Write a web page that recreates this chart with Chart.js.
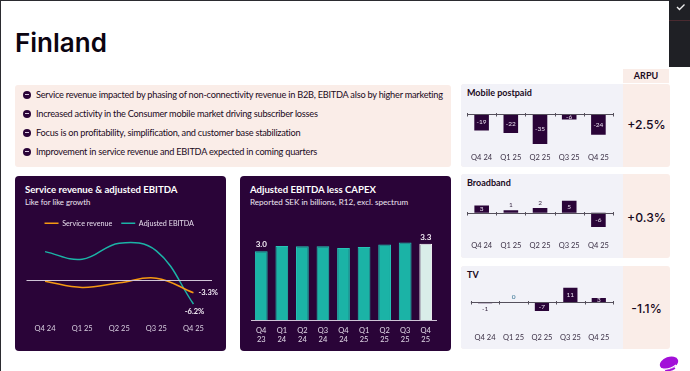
<!DOCTYPE html>
<html>
<head>
<meta charset="utf-8">
<title>Finland</title>
<script src="https://cdn.jsdelivr.net/npm/chart.js@4"></script>
<style>
html, body { margin: 0; padding: 0; background: #fff; overflow: hidden; }
body { width: 690px; height: 371px; position: relative; font-family: Lato, sans-serif; color: #1b0a22; }
.box { position: absolute; box-sizing: border-box; }
.abs { position: absolute; white-space: nowrap; }
canvas { position: absolute; }
.pink { background: #faede8; border-radius: 3px; }
.lilac { background: #f2f2f8; border-radius: 3px 0 0 3px; }
.dark { background: #2a0438; border-radius: 4px; }
.bullet { position: absolute; left: 36px; font-size: 9.2px; letter-spacing: -0.23px; line-height: 12px; white-space: nowrap; }
.dot { position: absolute; left: 23px; width: 8px; height: 8px; border-radius: 50%; background: #2a0438; }
.dot::after { content: ""; position: absolute; left: 2px; top: 3.5px; width: 4px; height: 1px; background: #d9c9e0; }
.ctitle { position: absolute; font-size: 9.6px; font-weight: 700; color: #fff; white-space: nowrap; }
.csub { position: absolute; font-size: 7.8px; color: #eee6f2; white-space: nowrap; }
.rowtitle { position: absolute; left: 467px; font-size: 9px; font-weight: 700; white-space: nowrap; }
.arpu { position: absolute; left: 623px; width: 47px; text-align: center; font-family: Inter, sans-serif; font-size: 12.2px; font-weight: 500; white-space: nowrap; color: #16081c; }
</style>
</head>
<body>
<div class="box" style="left:0;top:0;width:690px;height:1px;background:#2b2b30"></div>
<div class="box" style="left:0;top:0;width:1px;height:371px;background:#2b2b30"></div>
<div class="box" style="left:669px;top:0;width:21px;height:67px;background:#1f2025"></div>
<div class="box" style="left:669px;top:20px;width:21px;height:1px;background:#4a2a30"></div>
<svg class="abs" style="left:676px;top:3px" width="10" height="8"><path d="M1 4 L3.5 6.5 L8.5 1.5" stroke="#eee" stroke-width="1.4" fill="none"/></svg>

<div class="abs" style="left:15px;top:27px;font-family:Inter,sans-serif;font-size:26px;font-weight:600;color:#0c0410">Finland</div>

<div class="box pink" style="left:15px;top:85px;width:436px;height:82px"></div>
<div class="dot" style="top:90.5px"></div>
<div class="dot" style="top:109.5px"></div>
<div class="dot" style="top:128.5px"></div>
<div class="dot" style="top:147.5px"></div>
<div class="bullet" style="top:88.5px">Service revenue impacted by phasing of non-connectivity revenue in B2B, EBITDA also by higher marketing</div>
<div class="bullet" style="top:107.5px">Increased activity in the Consumer mobile market driving subscriber losses</div>
<div class="bullet" style="top:126.5px">Focus is on profitability, simplification, and customer base stabilization</div>
<div class="bullet" style="top:145.5px">Improvement in service revenue and EBITDA expected in coming quarters</div>

<div class="box dark" style="left:15px;top:176px;width:211px;height:175px"></div>
<div class="ctitle" style="left:25px;top:184px">Service revenue &amp; adjusted EBITDA</div>
<div class="csub" style="left:25px;top:197px">Like for like growth</div>
<canvas id="lineChart" width="211" height="175" style="left:15px;top:176px"></canvas>

<div class="box dark" style="left:240px;top:176px;width:211px;height:175px"></div>
<div class="ctitle" style="left:250px;top:184px">Adjusted EBITDA less CAPEX</div>
<div class="csub" style="left:250px;top:197px;font-size:8.1px">Reported SEK in billions, R12, excl. spectrum</div>
<canvas id="barChart" width="211" height="175" style="left:240px;top:176px"></canvas>

<div class="box pink" style="left:623px;top:69px;width:46px;height:14px;border-radius:0"></div>
<div class="abs" style="left:623px;top:70px;width:46px;text-align:center;font-size:9px;font-weight:700">ARPU</div>

<div class="box pink" style="left:461px;top:84px;width:209px;height:83px"></div>
<div class="box lilac" style="left:461px;top:84px;width:162px;height:83px"></div>
<div class="rowtitle" style="top:87px">Mobile postpaid</div>
<canvas id="mobileChart" width="162" height="83" style="left:461px;top:84px"></canvas>
<div class="arpu" style="top:117px">+2.5%</div>

<div class="box pink" style="left:461px;top:174px;width:209px;height:84px"></div>
<div class="box lilac" style="left:461px;top:174px;width:162px;height:84px"></div>
<div class="rowtitle" style="top:177px">Broadband</div>
<canvas id="broadbandChart" width="162" height="84" style="left:461px;top:174px"></canvas>
<div class="arpu" style="top:210px">+0.3%</div>

<div class="box pink" style="left:461px;top:266px;width:209px;height:83px"></div>
<div class="box lilac" style="left:461px;top:266px;width:162px;height:83px"></div>
<div class="rowtitle" style="top:269px">TV</div>
<canvas id="tvChart" width="162" height="83" style="left:461px;top:266px"></canvas>
<div class="arpu" style="top:301px">-1.1%</div>

<svg class="abs" style="left:658px;top:355px" width="24" height="16">
  <ellipse cx="11" cy="8" rx="9.5" ry="6" fill="#a20fd8" transform="rotate(-20 11 8)"/>
  <path d="M3 13.5 Q11 15.5 18 10" stroke="#fff" stroke-width="1.2" fill="none"/>
  <path d="M7 16 Q12 16 17 13" stroke="#a20fd8" stroke-width="1.5" fill="none"/>
</svg>

<script>
const quarters = ['Q4 24', 'Q1 25', 'Q2 25', 'Q3 25', 'Q4 25'];
const serviceRevenue = [-0.3, -1.9, -0.7, 0.5, -3.3];
const adjustedEbitda = [7.4, 5.4, 9.6, 7.6, -6.2];

const capexQuarters = [['Q4', '23'], ['Q1', '24'], ['Q2', '24'], ['Q3', '24'], ['Q4', '24'], ['Q1', '25'], ['Q2', '25'], ['Q3', '25'], ['Q4', '25']];
const ebitdaLessCapex = [3.0, 3.23, 3.22, 3.22, 3.14, 3.19, 3.3, 3.38, 3.33];
const capexLabels = ['3.0', '', '', '', '', '', '', '', '3.3'];

const mobilePostpaid = [-19, -22, -35, -6, -24];
const broadband = [3, 1, 2, 5, -6];
const tv = [-1, 0, -7, 11, 3];

// which bars have their number outside the bar
const mobileOutside = [];
const broadbandOutside = [1, 2];
const tvOutside = [0, 1];

const FONT = 'Lato, sans-serif';
const PURPLE = '#2a0438';
const TEAL = '#1bb3a6';
const ORANGE = '#f59a12';

// zero line with small ticks, x scale itself stays at the bottom
const zeroLine = {
    id: 'zeroLine',
    afterDatasetsDraw(chart, args, opts) {
        const { ctx, chartArea, scales } = chart;
        const y = Math.round(scales.y.getPixelForValue(0)) + 0.5;
        ctx.save();
        ctx.strokeStyle = opts.color;
        ctx.lineWidth = 1;
        ctx.beginPath();
        ctx.moveTo(chartArea.left, y);
        ctx.lineTo(chartArea.right, y);
        if (opts.ticks) {
            const step = chartArea.width / chart.data.labels.length;
            for (let i = 0; i <= chart.data.labels.length; i++) {
                const x = Math.round(chartArea.left + step * i) + 0.5;
                ctx.moveTo(x, y - 1.5);
                ctx.lineTo(x, y + 2);
            }
        }
        ctx.stroke();
        ctx.restore();
    }
};

const smallBarLabels = {
    id: 'smallBarLabels',
    afterDatasetsDraw(chart, args, opts) {
        const { ctx, scales } = chart;
        const values = chart.data.datasets[0].data;
        const bars = chart.getDatasetMeta(0).data;
        ctx.save();
        ctx.font = '6.5px ' + FONT;
        ctx.textAlign = 'center';
        ctx.textBaseline = 'middle';
        values.forEach((v, i) => {
            const zero = scales.y.getPixelForValue(0);
            const y = scales.y.getPixelForValue(v);
            if (opts.outside.includes(i)) {
                ctx.fillStyle = v === 0 ? '#2f6f8f' : '#3a2a44';
                ctx.fillText(v, bars[i].x, v < 0 ? y + 6 : y - 5);
            } else {
                ctx.fillStyle = '#e8e0ee';
                ctx.fillText(v, bars[i].x, (zero + y) / 2);
            }
        });
        ctx.restore();
    }
};

const capexBarLabels = {
    id: 'capexBarLabels',
    afterDatasetsDraw(chart) {
        const { ctx } = chart;
        const bars = chart.getDatasetMeta(0).data;
        ctx.save();
        ctx.font = 'bold 8px ' + FONT;
        ctx.fillStyle = '#f4eef6';
        ctx.textAlign = 'center';
        capexLabels.forEach((t, i) => {
            if (t) ctx.fillText(t, bars[i].x, bars[i].y - 4);
        });
        ctx.restore();
    }
};

const lineEndLabels = {
    id: 'lineEndLabels',
    afterDatasetsDraw(chart) {
        const { ctx } = chart;
        const rev = chart.getDatasetMeta(0).data[4];
        const ebitda = chart.getDatasetMeta(1).data[4];
        ctx.save();
        ctx.font = 'bold 7.5px ' + FONT;
        ctx.fillStyle = '#f4eef6';
        ctx.textBaseline = 'middle';
        ctx.fillText(serviceRevenue[4].toFixed(1) + '%', rev.x + 5, rev.y);
        ctx.textAlign = 'center';
        ctx.fillText(adjustedEbitda[4].toFixed(1) + '%', ebitda.x + 1, ebitda.y + 8);
        ctx.restore();
    }
};

// legend sits closer to the lines than its padding would allow
const tightLegend = {
    id: 'tightLegend',
    beforeInit(chart) {
        const fit = chart.legend.fit;
        chart.legend.fit = function () {
            fit.call(this);
            this.height -= 3;
        };
    }
};

new Chart(document.getElementById('lineChart'), {
    type: 'line',
    data: {
        labels: quarters,
        datasets: [
            { label: 'Service revenue', data: serviceRevenue, borderColor: ORANGE, backgroundColor: ORANGE, borderWidth: 1.5, tension: 0.4, pointRadius: 0 },
            { label: 'Adjusted EBITDA', data: adjustedEbitda, borderColor: TEAL, backgroundColor: TEAL, borderWidth: 1.5, tension: 0.4, pointRadius: 0 }
        ]
    },
    options: {
        responsive: false,
        animation: false,
        layout: { padding: { top: 34.7, left: 11.5, right: 14, bottom: 0 } },
        plugins: {
            legend: {
                display: true,
                position: 'top',
                align: 'center',
                labels: { color: '#e6dcec', boxWidth: 14, boxHeight: 0, padding: 9, font: { family: FONT, size: 7.2 } }
            },
            tooltip: { enabled: false },
            zeroLine: { color: '#cfc4d6', ticks: false }
        },
        scales: {
            x: {
                offset: true,
                grid: { display: false, drawTicks: false },
                border: { display: false },
                ticks: { color: '#d9d0e0', padding: 9, font: { family: FONT, size: 7.5 }, maxRotation: 0 },
                afterFit: s => { s.height = 36.25; }
            },
            y: { display: false, min: -9, max: 12 }
        }
    },
    plugins: [tightLegend, zeroLine, lineEndLabels]
});

new Chart(document.getElementById('barChart'), {
    type: 'bar',
    data: {
        labels: capexQuarters,
        datasets: [{
            data: ebitdaLessCapex,
            backgroundColor: ebitdaLessCapex.map((v, i) => i === 8 ? '#d9ede9' : TEAL),
            borderColor: ebitdaLessCapex.map((v, i) => i === 8 ? '#ffffff' : '#25c4b6'),
            borderWidth: 1,
            categoryPercentage: 0.62,
            barPercentage: 1
        }]
    },
    options: {
        responsive: false,
        animation: false,
        layout: { padding: { top: 52.3, left: 11, right: 15, bottom: 0 } },
        plugins: {
            legend: { display: false },
            tooltip: { enabled: false }
        },
        scales: {
            x: {
                grid: { display: false, drawTicks: false },
                border: { color: '#cfc4d6', width: 1 },
                ticks: { color: '#e0d8e6', padding: 6, font: { family: FONT, size: 7.5, lineHeight: 1.15 }, maxRotation: 0, autoSkip: false },
                afterFit: s => { s.height = 30.7; }
            },
            y: { display: false, min: 0, max: 4 }
        }
    },
    plugins: [capexBarLabels]
});

const smallChartConfig = (values, outside, min, max, top, axisHeight, tickPadding) => ({
    type: 'bar',
    data: {
        labels: quarters,
        datasets: [{ data: values, backgroundColor: PURPLE, categoryPercentage: 0.5, barPercentage: 1 }]
    },
    options: {
        responsive: false,
        animation: false,
        layout: { padding: { top: top, left: 6, right: 10, bottom: 0 } },
        plugins: {
            legend: { display: false },
            tooltip: { enabled: false },
            zeroLine: { color: '#55505c', ticks: true },
            smallBarLabels: { outside: outside }
        },
        scales: {
            x: {
                grid: { display: false, drawTicks: false },
                border: { display: false },
                ticks: { color: '#3a2f44', padding: tickPadding, font: { family: FONT, size: 7.5 }, maxRotation: 0 },
                afterFit: s => { s.height = axisHeight; }
            },
            y: { display: false, min: min, max: max }
        }
    },
    plugins: [zeroLine, smallBarLabels]
});

new Chart(document.getElementById('mobileChart'), smallChartConfig(mobilePostpaid, mobileOutside, -40, 10, 21.8, 18.7, 5));
new Chart(document.getElementById('broadbandChart'), smallChartConfig(broadband, broadbandOutside, -8, 8, 19.5, 26.1, 9.6));
new Chart(document.getElementById('tvChart'), smallChartConfig(tv, tvOutside, -14, 14, 17.8, 28.8, 13));
</script>
</body>
</html>
